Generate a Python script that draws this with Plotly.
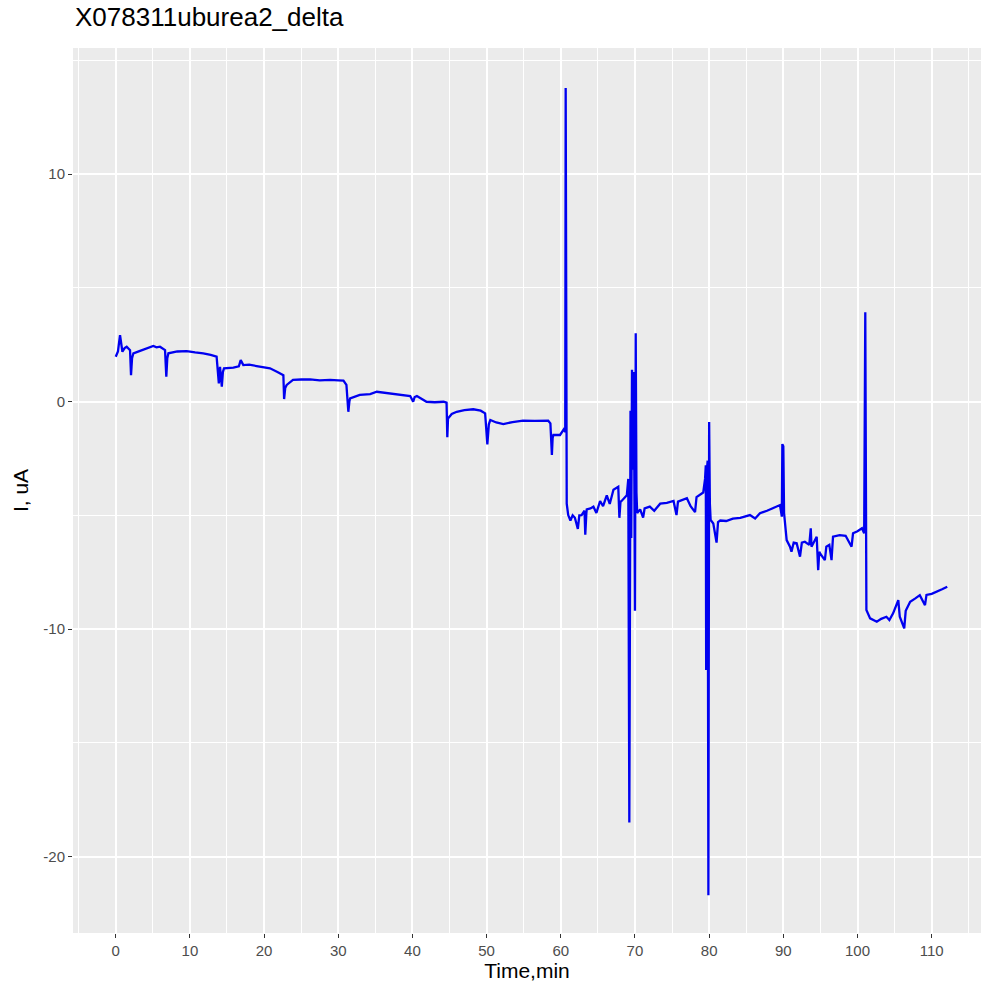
import plotly.graph_objects as go

title_text = "X078311uburea2_delta"
x_label = "Time,min"
y_label = "I, uA"

time_min = [
    0.0, 0.3, 0.58, 0.9, 1.2, 1.48, 1.93, 2.06, 2.2, 2.38, 3.28, 4.2, 5.07, 5.5, 5.97,
    6.65, 6.82, 6.95, 7.1, 8.3, 9.57, 10.7, 11.8, 12.8, 13.6, 13.9, 14.0, 14.06, 14.3,
    14.45, 14.6, 15.86, 16.6, 16.85, 17.2, 18.0, 19.0, 20.0, 20.8, 21.8, 22.6, 22.7,
    22.85, 23.05, 23.9, 25.0, 26.2, 27.5, 28.9, 30.0, 30.7, 31.1, 31.36, 31.5, 31.6,
    32.9, 34.3, 35.2, 36.3, 37.4, 38.6, 39.7, 40.1, 40.3, 40.6, 41.3, 41.9, 43.0, 44.2,
    44.6, 44.7, 44.8, 45.3, 45.97, 47.0, 48.2, 49.2, 49.8, 50.1, 50.3, 50.5, 51.3,
    52.25, 53.5, 54.9, 56.5, 58.3, 58.6, 58.8, 58.9, 59.0, 59.9, 60.4, 60.6, 60.66,
    60.8, 61.0, 61.3, 61.6, 61.9, 62.3, 62.5, 62.8, 63.2, 63.3, 63.45, 63.5, 64.0, 64.4,
    64.8, 65.3, 65.7, 66.2, 66.6, 67.1, 67.75, 67.9, 68.05, 68.2, 68.9, 69.1, 69.24,
    69.4, 69.5, 69.6, 69.75, 69.85, 70.0, 70.1, 70.2, 70.3, 70.7, 71.1, 71.3, 72.0,
    72.6, 73.4, 74.3, 75.2, 75.6, 75.8, 77.0, 77.5, 78.1, 78.3, 79.2, 79.45, 79.55,
    79.6, 79.7, 79.8, 79.9, 80.0, 80.1, 80.2, 80.56, 81.0, 81.2, 81.5, 82.3, 83.2,
    84.2, 85.5, 86.2, 86.85, 87.8, 88.65, 89.55, 89.8, 89.87, 90.0, 90.1, 90.45, 90.9,
    91.1, 91.4, 91.8, 92.25, 92.5, 92.9, 93.5, 93.7, 93.8, 94.5, 94.7, 94.85, 95.0,
    95.6, 95.8, 96.2, 96.5, 96.7, 97.6, 98.4, 99.2, 99.4, 100.0, 100.6, 100.9, 101.05,
    101.2, 101.7, 102.6, 103.2, 103.9, 104.3, 104.8, 105.5, 105.7, 106.3, 106.5, 106.8,
    107.1, 107.8, 108.4, 109.1, 109.3, 110.0, 110.7, 111.4, 112.1,
]

current_ua = [
    1.97, 2.2, 2.92, 2.19, 2.35, 2.41, 2.26, 1.16, 1.9, 2.12, 2.23, 2.35, 2.44, 2.38, 2.41,
    2.26, 1.09, 1.9, 2.12, 2.2, 2.22, 2.16, 2.12, 2.05, 1.97, 0.80, 1.53, 1.53, 0.65,
    1.3, 1.46, 1.49, 1.55, 1.82, 1.6, 1.62, 1.56, 1.52, 1.46, 1.3, 1.16, 0.11,
    0.6, 0.73, 0.95, 0.97, 0.97, 0.93, 0.95, 0.93, 0.92, 0.73, -0.45, 0.0, 0.14,
    0.29, 0.33, 0.43, 0.38, 0.36, 0.3, 0.24, -0.01, 0.2, 0.24, 0.1, -0.01, -0.03, -0.01,
    -0.05, -1.57, -0.74, -0.55, -0.45, -0.38, -0.34, -0.4, -0.52, -1.88, -1.0, -0.81, -0.92,
    -0.99, -0.9, -0.84, -0.85, -0.84, -0.96, -2.35, -1.6, -1.47, -1.47, -1.22, -1.33, 13.78,
    -4.49, -4.99, -5.23, -5.0, -5.11, -5.6, -5.0, -4.99, -4.8, -5.85, -4.9, -4.74, -4.7, -4.62,
    -4.9, -4.37, -4.6, -4.12, -4.5, -3.88, -3.75, -5.11, -4.4, -4.37, -4.12, -3.4, -18.5,
    -0.4, -6.0, 1.4, -3.0, 1.3, -9.2, 3.0, -4.0, -4.9, -4.74, -5.1, -4.7, -4.62,
    -4.8, -4.49, -4.45, -4.37, -4.99, -4.4, -4.25, -4.6, -4.86, -4.2, -4.0, -3.4, -2.8,
    -11.8, -3.0, -2.6, -21.7, -0.9, -4.5, -5.2, -5.36, -6.2, -5.3, -5.23, -5.25, -5.15,
    -5.11, -4.99, -5.14, -4.91, -4.8, -4.67, -4.55, -5.06, -1.87, -1.97, -4.9, -6.09, -6.38,
    -6.6, -6.2, -6.23, -6.82, -6.2, -6.16, -6.3, -5.57, -6.38, -5.94, -7.41, -6.6, -6.7,
    -6.97, -6.38, -6.3, -6.97, -5.94, -5.87, -5.9, -6.38, -5.79, -5.7, -5.57, -5.79, 3.92,
    -9.16, -9.53, -9.68, -9.55, -9.46, -9.6, -9.31, -8.73, -9.46, -9.97, -9.2, -9.0,
    -8.8, -8.65, -8.51, -8.95, -8.5, -8.45, -8.36, -8.25, -8.14,
]

x_ticks = [0, 10, 20, 30, 40, 50, 60, 70, 80, 90, 100, 110]
y_ticks = [-20, -10, 0, 10]

fig = go.Figure()
fig.add_trace(go.Scatter(
    x=time_min, y=current_ua, mode="lines",
    line=dict(color="#0000F0", width=2.3),
    showlegend=False, hoverinfo="x+y",
))

tick_font = dict(family="Liberation Sans, Arial, sans-serif", size=15, color="#4D4D4D")
title_font = dict(family="Liberation Sans, Arial, sans-serif", size=21, color="#000000")

fig.update_layout(
    width=981, height=988,
    margin=dict(l=73, r=0, t=48, b=55),
    paper_bgcolor="white",
    plot_bgcolor="#EBEBEB",
    title=dict(
        text=title_text, xref="container", yref="container",
        x=75 / 981, xanchor="left", y=1 - 17 / 988, yanchor="middle",
        font=dict(family="Liberation Sans, Arial, sans-serif", size=26, color="#000000"),
    ),
    xaxis=dict(
        range=[-5.76, 116.65], tickvals=x_ticks, ticktext=[str(v) for v in x_ticks],
        showgrid=True, gridcolor="white", gridwidth=1.6, zeroline=False,
        ticks="outside", ticklen=4, tickwidth=1.2, tickcolor="#333333",
        tickfont=tick_font, showline=False,
        minor=dict(dtick=5, tick0=0, showgrid=True, gridcolor="white", gridwidth=0.8, ticks=""),
        title=dict(text=x_label, font=title_font, standoff=5),
    ),
    yaxis=dict(
        range=[-23.36, 15.54], tickvals=y_ticks, ticktext=[str(v) for v in y_ticks],
        showgrid=True, gridcolor="white", gridwidth=1.6, zeroline=False,
        ticks="outside", ticklen=4, tickwidth=1.2, tickcolor="#333333",
        tickfont=tick_font, showline=False,
        minor=dict(dtick=5, tick0=0, showgrid=True, gridcolor="white", gridwidth=0.8, ticks=""),
        title=dict(text=y_label, font=title_font, standoff=8),
    ),
)

fig.write_html("out.html")
